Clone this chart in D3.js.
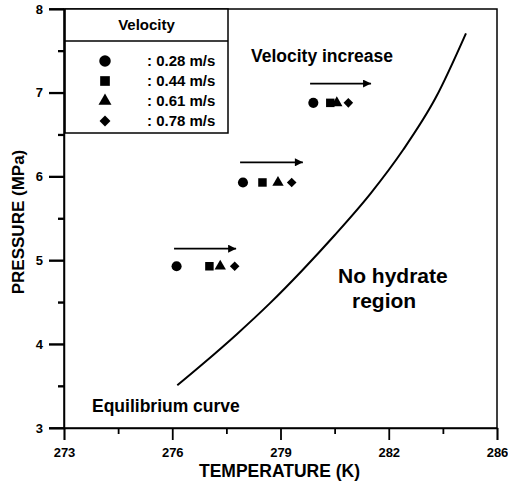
<!DOCTYPE html>
<html>
<head>
<meta charset="utf-8">
<script src="https://cdn.jsdelivr.net/npm/d3@7"></script>
<style>
  body { margin: 0; background: #fff; overflow: hidden; }
  svg { display: block; }
  svg text { font-family: "Liberation Sans", Arial, sans-serif; font-weight: bold; fill: #000; }
</style>
</head>
<body>
<div id="chart"></div>
<script>
// velocities (legend)
var velocities = ['0.28', '0.44', '0.61', '0.78']
var symbols = ['circle', 'square', 'triangle', 'diamond']

// measured points, one array per velocity (T in K, P in MPa)
var tempV028 = [276.12, 277.96, 279.91]
var tempV044 = [277.03, 278.50, 280.38]
var tempV061 = [277.33, 278.93, 280.56]
var tempV078 = [277.73, 279.31, 280.88]
var pressRows = [4.93, 5.93, 6.88]

// "velocity increase" arrows
var arrowStart = [276.05, 277.88, 279.82]
var arrowEnd = [277.77, 279.62, 281.51]
var arrowP = [5.14, 6.17, 7.11]

// equilibrium curve
var curveT = [276.14, 276.86, 277.79, 278.71, 279.6, 280.5, 281.5, 282.4, 283.3, 284.14]
var curveP = [3.51, 3.77, 4.12, 4.49, 4.88, 5.30, 5.80, 6.32, 6.94, 7.71]

// axes
var xTicks = [273, 276, 279, 282, 285]
var xTickLabels = ['273', '276', '279', '282', '286']
var yTicks = [3, 4, 5, 6, 7, 8]

var width = 508, height = 483
var margin = { top: 9, right: 11, bottom: 55, left: 64 }

var svg = d3.select('#chart').append('svg')
  .attr('width', width)
  .attr('height', height)

var x = d3.scaleLinear().domain([273, 285]).range([margin.left, width - margin.right])
var y = d3.scaleLinear().domain([3, 8]).range([height - margin.bottom, margin.top])

var symType = {
  circle: d3.symbolCircle,
  square: d3.symbolSquare,
  triangle: d3.symbolTriangle,
  diamond: d3.symbolSquare // rotated 45° below
}
var symSize = { circle: 80, square: 72, triangle: 56, diamond: 46 }

function symTransform (name, px, py) {
  return 'translate(' + px + ',' + py + ')' + (name === 'diamond' ? ' rotate(45)' : '')
}

// frame
svg.append('rect')
  .attr('x', x(273)).attr('y', y(8))
  .attr('width', x(285) - x(273)).attr('height', y(3) - y(8))
  .attr('fill', 'none').attr('stroke', '#000').attr('stroke-width', 1.5)

// axis titles
svg.append('text')
  .attr('x', (x(273) + x(285)) / 2 - 1).attr('y', 477)
  .attr('text-anchor', 'middle').attr('font-size', 17.5)
  .text('TEMPERATURE (K)')
svg.append('text')
  .attr('transform', 'translate(24,' + 222 + ') rotate(-90)')
  .attr('text-anchor', 'middle').attr('font-size', 17)
  .text('PRESSURE (MPa)')

// equilibrium curve
var line = d3.line()
  .x(function (d, i) { return x(curveT[i]) })
  .y(function (d, i) { return y(curveP[i]) })
  .curve(d3.curveMonotoneX)
svg.append('path')
  .datum(curveT)
  .attr('d', line)
  .attr('fill', 'none').attr('stroke', '#000').attr('stroke-width', 2)

// arrows
svg.append('defs').append('marker')
  .attr('id', 'head')
  .attr('viewBox', '0 0 10 10')
  .attr('refX', 10).attr('refY', 5)
  .attr('markerWidth', 11).attr('markerHeight', 8)
  .attr('markerUnits', 'userSpaceOnUse')
  .attr('orient', 'auto')
  .append('path').attr('d', 'M0,0L10,5L0,10Z').attr('fill', '#000')

svg.append('g').selectAll('line')
  .data(arrowP)
  .enter().append('line')
  .attr('x1', function (d, i) { return x(arrowStart[i]) })
  .attr('x2', function (d, i) { return x(arrowEnd[i]) })
  .attr('y1', function (d) { return y(d) })
  .attr('y2', function (d) { return y(d) })
  .attr('stroke', '#000').attr('stroke-width', 1.6)
  .attr('marker-end', 'url(#head)')

// data points
var series = [tempV028, tempV044, tempV061, tempV078]
series.forEach(function (temps, s) {
  var name = symbols[s]
  var sym = d3.symbol().type(symType[name]).size(symSize[name])
  svg.append('g').selectAll('path')
    .data(temps)
    .enter().append('path')
    .attr('d', sym)
    .attr('transform', function (d, i) { return symTransform(name, x(d), y(pressRows[i])) })
    .attr('fill', '#000')
})

// legend
var lg = svg.append('g')
var lx = x(273) + 1, ly = y(8), lw = 163, lh = 124
lg.append('rect')
  .attr('x', lx).attr('y', ly).attr('width', lw).attr('height', lh)
  .attr('fill', '#fff').attr('stroke', '#000').attr('stroke-width', 1.5)
lg.append('line')
  .attr('x1', lx).attr('x2', lx + lw).attr('y1', ly + 32).attr('y2', ly + 32)
  .attr('stroke', '#000').attr('stroke-width', 1.5)
lg.append('text')
  .attr('x', lx + lw / 2).attr('y', ly + 21)
  .attr('text-anchor', 'middle').attr('font-size', 15)
  .text('Velocity')

var rowY = [61, 81, 101, 121]
velocities.forEach(function (v, i) {
  var name = symbols[i]
  var sym = d3.symbol().type(symType[name]).size(symSize[name] * 1.3)
  lg.append('path')
    .attr('d', sym)
    .attr('transform', symTransform(name, 105, rowY[i]))
    .attr('fill', '#000')
  lg.append('text')
    .attr('x', 147).attr('y', rowY[i] + 5)
    .attr('font-size', 15)
    .text(': ' + v + ' m/s')
})

// annotations
svg.append('text').attr('x', 251).attr('y', 62).attr('font-size', 17.5).text('Velocity increase')
svg.append('text').attr('x', 338).attr('y', 283).attr('font-size', 21).text('No hydrate')
svg.append('text').attr('x', 352).attr('y', 308).attr('font-size', 21).text('region')
svg.append('text').attr('x', 92).attr('y', 412).attr('font-size', 17.5).text('Equilibrium curve')

// 坐标轴 (drawn last, major + minor ticks in one axis)
var xAll = xTicks.concat(xTicks.slice(0, -1).map(function (d) { return d + 1.5 }))
var yAll = yTicks.concat(yTicks.slice(0, -1).map(function (d) { return d + 0.5 }))

var xAxis = d3.axisBottom(x)
  .tickValues(xAll)
  .tickSize(12)
  .tickPadding(8)
  .tickFormat(function (d) {
    var i = xTicks.indexOf(d)
    return i < 0 ? '' : xTickLabels[i]
  })
var yAxis = d3.axisLeft(y)
  .tickValues(yAll)
  .tickSize(15)
  .tickPadding(6)
  .tickFormat(function (d) { return yTicks.indexOf(d) < 0 ? '' : d3.format('d')(d) })

var gx = svg.append('g').attr('transform', 'translate(0,' + y(3) + ')').call(xAxis)
gx.select('.domain').attr('stroke', '#000').attr('stroke-width', 1.5)
gx.selectAll('.tick line')
  .attr('stroke', '#000').attr('stroke-width', 1.8)
  .attr('y2', function (d) { return xTicks.indexOf(d) < 0 ? 6 : 12 })
gx.selectAll('.tick text').attr('font-size', 13)

var gy = svg.append('g').attr('transform', 'translate(' + x(273) + ',0)').call(yAxis)
gy.select('.domain').attr('stroke', '#000').attr('stroke-width', 1.5)
gy.selectAll('.tick line')
  .attr('stroke', '#000').attr('stroke-width', 1.8)
  .attr('x2', function (d) { return yTicks.indexOf(d) < 0 ? -6 : -15 })
gy.selectAll('.tick text').attr('font-size', 13)

// y tick marks again as plain lines from the scale, in case the axis lines get lost
svg.append('g').selectAll('line')
  .data(yAll)
  .enter().append('line')
  .attr('x1', x(273))
  .attr('x2', function (d) { return x(273) - (yTicks.indexOf(d) < 0 ? 6 : 15) })
  .attr('y1', function (d) { return y(d) })
  .attr('y2', function (d) { return y(d) })
  .attr('stroke', '#000').attr('stroke-width', 1.8)
</script>
</body>
</html>
